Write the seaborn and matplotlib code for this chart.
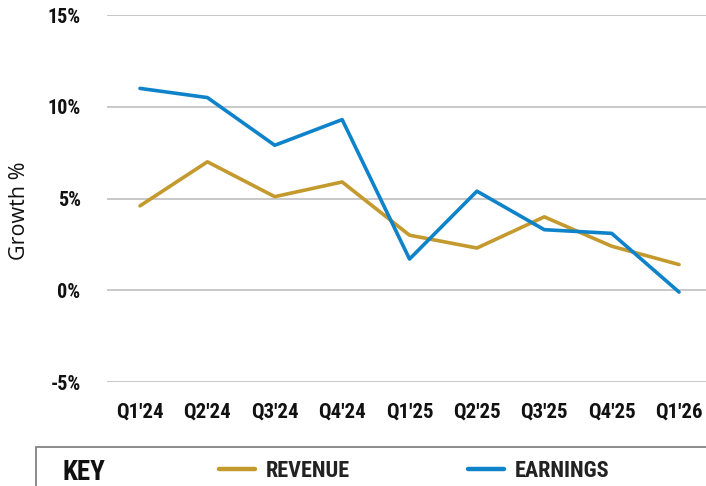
import numpy as np
import pandas as pd
import seaborn as sns
import matplotlib.pyplot as plt
from matplotlib.lines import Line2D

quarters = ["Q1'24", "Q2'24", "Q3'24", "Q4'24", "Q1'25", "Q2'25", "Q3'25", "Q4'25", "Q1'26"]
revenue = [4.6, 7.0, 5.1, 5.9, 3.0, 2.3, 4.0, 2.4, 1.4]
earnings = [11.0, 10.5, 7.9, 9.3, 1.7, 5.4, 3.3, 3.1, -0.1]
y_ticks = [-5, 0, 5, 10, 15]

gold = '#C49A2E'
blue = '#0E83C9'
cond = ['Roboto Condensed', 'DejaVu Sans']

sns.set_style('white')
plt.rcParams['font.family'] = ['Open Sans', 'DejaVu Sans']

df = pd.DataFrame({
    'idx': list(range(len(quarters))) * 2,
    'growth': revenue + earnings,
    'series': ['REVENUE'] * len(quarters) + ['EARNINGS'] * len(quarters),
})

fig = plt.figure(figsize=(7.06, 4.86), dpi=100)
ax = fig.add_axes([107 / 706, 1 - 382 / 486, 1 - 107 / 706, (382 - 15) / 486])

sns.lineplot(data=df, x='idx', y='growth', hue='series',
             palette={'REVENUE': gold, 'EARNINGS': blue},
             linewidth=2.6, legend=False, ax=ax)

ax.set_xlim(-0.49, 8.4)
ax.set_ylim(-5, 15)
ax.set_yticks(y_ticks)
ax.set_yticklabels([f'{v}%' for v in y_ticks], family=cond,
                   fontweight='bold', fontsize=14.5, color='#111111')
ax.set_xticks(range(len(quarters)))
ax.set_xticklabels(quarters, family=cond, fontweight='bold',
                   fontsize=15, color='#111111')
ax.tick_params(axis='x', length=0, pad=15)
ax.tick_params(axis='y', length=0, pad=19)
ax.grid(axis='y', color='#C8C8C8', linewidth=1.4)
ax.set_axisbelow(True)
for s in ax.spines.values():
    s.set_visible(False)
ax.set_xlabel('')
ax.set_ylabel('Growth %', fontsize=15.5, color='#111111')
ax.yaxis.set_label_coords(-0.128, 0.466)

# key box at the bottom
fig.add_artist(Line2D([36 / 706, 1], [1 - 447 / 486] * 2, color='#8C8C8C', linewidth=1.4))
fig.add_artist(Line2D([36 / 706] * 2, [1 - 447 / 486, 0], color='#8C8C8C', linewidth=1.4))
fig.text(63 / 706, 1 - 480 / 486, 'KEY', family=cond, fontweight='bold',
         fontsize=19.5, va='baseline', color='#111111')
for x0, col, lab in [(217, gold, 'REVENUE'), (466, blue, 'EARNINGS')]:
    fig.add_artist(Line2D([(x0 + 2) / 706, (x0 + 38) / 706], [1 - 469 / 486] * 2,
                          color=col, linewidth=3.2, solid_capstyle='round'))
    fig.text((x0 + 49) / 706, 1 - 477 / 486, lab, family=cond,
             fontweight='bold', fontsize=16, va='baseline', color='#222222')

fig.savefig('out.png', dpi=100)
